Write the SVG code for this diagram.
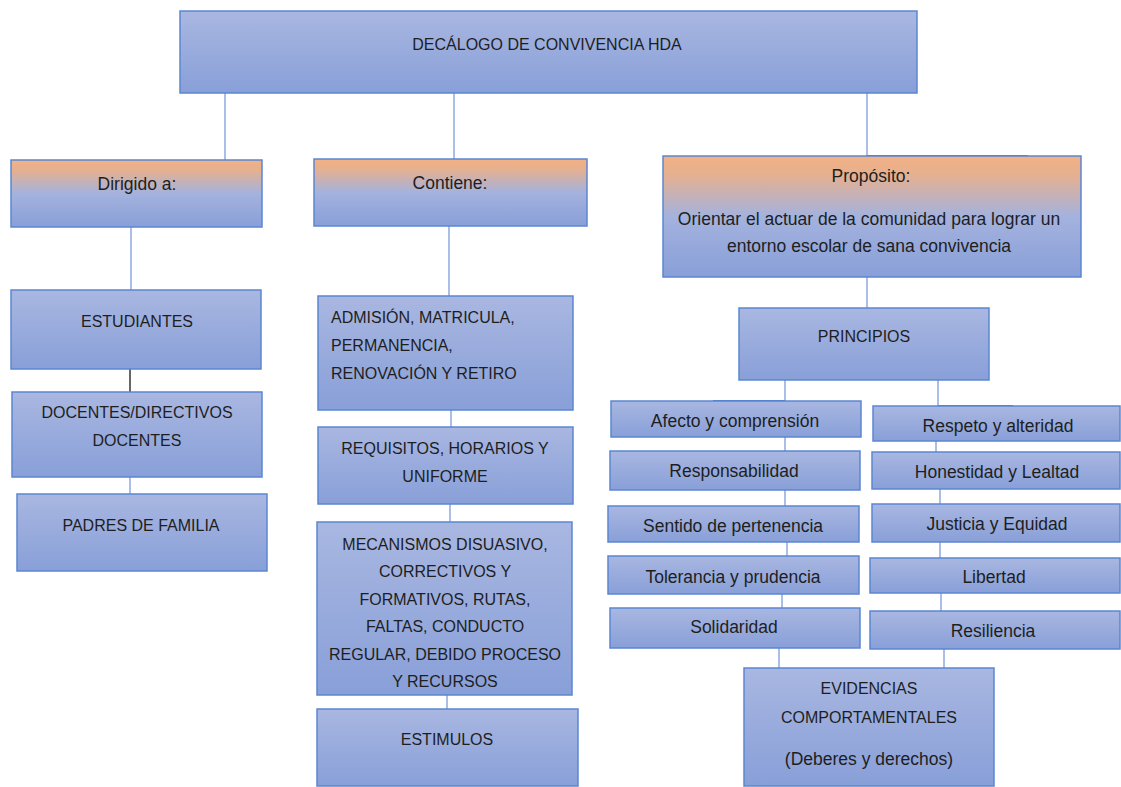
<svg xmlns="http://www.w3.org/2000/svg" width="1121" height="787" viewBox="0 0 1121 787">
<defs>
<linearGradient id="gb" x1="0" y1="0" x2="0" y2="1">
<stop offset="0" stop-color="#a9b7e1"/>
<stop offset="1" stop-color="#889fd8"/>
</linearGradient>
<linearGradient id="go" x1="0" y1="0" x2="0" y2="1">
<stop offset="0" stop-color="#f2b185"/>
<stop offset="0.15" stop-color="#e6b08f"/>
<stop offset="0.5" stop-color="#a4b2de"/>
<stop offset="1" stop-color="#889fd8"/>
</linearGradient>
<style>
.b{fill:url(#gb);stroke:#5b86d2;stroke-width:1.5}
.o{fill:url(#go);stroke:#5b86d2;stroke-width:1.5}
text{font-family:"Liberation Sans",Arial,sans-serif;font-size:16px;fill:#1e1e1e;text-anchor:middle}
.m{font-size:17.5px}
.l{text-anchor:start}
.c{stroke:#8eaadf;stroke-width:1.5;fill:none}
.d{stroke:#4f7ccc;stroke-width:2;fill:none}
.k{stroke:#000;stroke-width:1.2;fill:none}
</style>
</defs>
<rect width="1121" height="787" fill="#fff"/>
<g id="connectors">
<path class="c" d="M225 93V160M454 93V159M867 93V156M131 227V290M449 226V296M130 477V494M451 410V427M450 504V522M447 695V709M867 277V308M785 380V401M938 380V406M785 437V451M785 490V506M787 542V556M782 594V608M779 648V668M936 441V452M940 489V504M940 542V558M941 593V611M944 649V668"/>
<path class="k" d="M130 369V392"/>
<path class="d" d="M867 156H1028M713 401H785M938 406H1013"/>
</g>
<g id="n-top"><rect class="b" x="180" y="11" width="737" height="82"/><text x="547" y="50">DECÁLOGO DE CONVIVENCIA HDA</text></g>
<g id="n-dirigido"><rect class="o" x="11" y="160" width="251" height="67"/><text class="m" x="137" y="190">Dirigido a:</text></g>
<g id="n-contiene"><rect class="o" x="314" y="159" width="273" height="67"/><text class="m" x="450" y="189">Contiene:</text></g>
<g id="n-proposito"><rect class="o" x="663" y="156" width="418" height="121"/><text class="m" x="871" y="182">Propósito:</text><text class="m" x="869" y="225">Orientar el actuar de la comunidad para lograr un</text><text class="m" x="869" y="252">entorno escolar de sana convivencia</text></g>
<g id="n-estudiantes"><rect class="b" x="11" y="290" width="250" height="79"/><text x="137" y="327">ESTUDIANTES</text></g>
<g id="n-docentes"><rect class="b" x="12" y="392" width="250" height="85"/><text x="137" y="418">DOCENTES/DIRECTIVOS</text><text x="137" y="446">DOCENTES</text></g>
<g id="n-padres"><rect class="b" x="17" y="494" width="250" height="77"/><text x="141" y="531">PADRES DE FAMILIA</text></g>
<g id="n-admision"><rect class="b" x="318" y="296" width="255" height="114"/><text class="l" x="331" y="323">ADMISIÓN, MATRICULA,</text><text class="l" x="331" y="351">PERMANENCIA,</text><text class="l" x="331" y="379">RENOVACIÓN Y RETIRO</text></g>
<g id="n-requisitos"><rect class="b" x="318" y="427" width="255" height="77"/><text x="445" y="454">REQUISITOS, HORARIOS Y</text><text x="445" y="482">UNIFORME</text></g>
<g id="n-mecanismos"><rect class="b" x="317" y="522" width="255" height="173"/><text x="445" y="550">MECANISMOS DISUASIVO,</text><text x="445" y="577">CORRECTIVOS Y</text><text x="445" y="605">FORMATIVOS, RUTAS,</text><text x="445" y="632">FALTAS, CONDUCTO</text><text x="445" y="660">REGULAR, DEBIDO PROCESO</text><text x="445" y="687">Y RECURSOS</text></g>
<g id="n-estimulos"><rect class="b" x="317" y="709" width="261" height="77"/><text x="447" y="745">ESTIMULOS</text></g>
<g id="n-principios"><rect class="b" x="739" y="308" width="250" height="72"/><text x="864" y="342">PRINCIPIOS</text></g>
<g id="n-afecto"><rect class="b" x="611" y="401" width="250" height="36"/><text class="m" x="735" y="427">Afecto y comprensión</text></g>
<g id="n-responsabilidad"><rect class="b" x="610" y="451" width="250" height="39"/><text class="m" x="734" y="477">Responsabilidad</text></g>
<g id="n-sentido"><rect class="b" x="608" y="506" width="251" height="36"/><text class="m" x="733" y="532">Sentido de pertenencia</text></g>
<g id="n-tolerancia"><rect class="b" x="608" y="556" width="251" height="38"/><text class="m" x="733" y="583">Tolerancia y prudencia</text></g>
<g id="n-solidaridad"><rect class="b" x="610" y="608" width="250" height="40"/><text class="m" x="734" y="633">Solidaridad</text></g>
<g id="n-respeto"><rect class="b" x="873" y="406" width="247" height="35"/><text class="m" x="998" y="432">Respeto y alteridad</text></g>
<g id="n-honestidad"><rect class="b" x="872" y="452" width="248" height="37"/><text class="m" x="997" y="478">Honestidad y Lealtad</text></g>
<g id="n-justicia"><rect class="b" x="872" y="504" width="248" height="38"/><text class="m" x="997" y="530">Justicia y Equidad</text></g>
<g id="n-libertad"><rect class="b" x="870" y="558" width="250" height="35"/><text class="m" x="994" y="583">Libertad</text></g>
<g id="n-resiliencia"><rect class="b" x="870" y="611" width="250" height="38"/><text class="m" x="993" y="637">Resiliencia</text></g>
<g id="n-evidencias"><rect class="b" x="744" y="668" width="250" height="118"/><text x="869" y="694">EVIDENCIAS</text><text x="869" y="723">COMPORTAMENTALES</text><text class="m" x="869" y="765">(Deberes y derechos)</text></g>
</svg>
